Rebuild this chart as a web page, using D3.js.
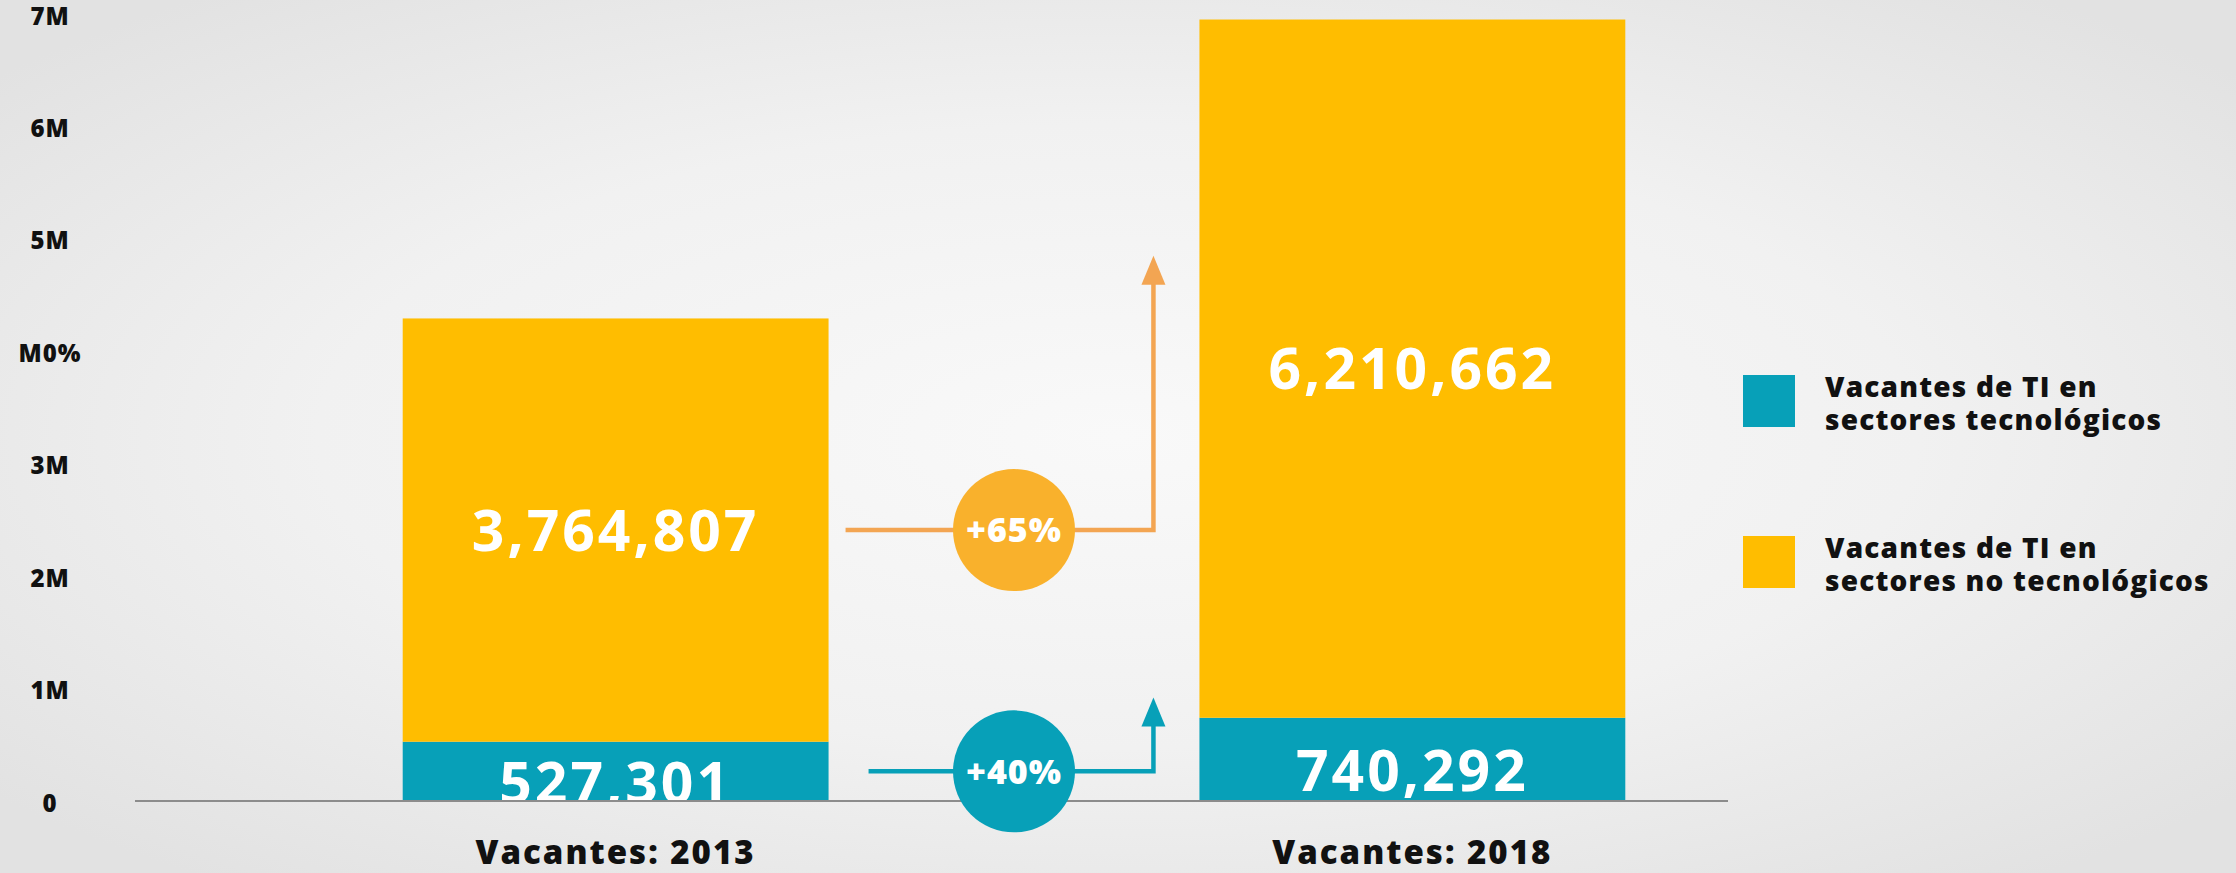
<!DOCTYPE html>
<html>
<head>
<meta charset="utf-8">
<script src="https://cdn.jsdelivr.net/npm/d3@7"></script>
<style>
    html, body { margin: 0; padding: 0; overflow: hidden; }
    text { font-family: "Open Sans", "DejaVu Sans", sans-serif; font-weight: 700; }
</style>
</head>
<body>
<div id="chart"></div>
<script>
// data
var categories = ["Vacantes: 2013", "Vacantes: 2018"];
var techValues = [527301, 740292];
var nonTechValues = [3764807, 6210662];
var seriesKeys = ["tech", "nonTech"];
var legendLines = [
    ["Vacantes de TI en", "sectores tecnológicos"],
    ["Vacantes de TI en", "sectores no tecnológicos"]
];
var yTickValues = [0, 1000000, 2000000, 3000000, 4000000, 5000000, 6000000, 7000000];
var yTickLabels = ["0", "1M", "2M", "3M", "M0%", "5M", "6M", "7M"];
var growthLabels = ["+40%", "+65%"];
var arrowTips = [920000, 4850000];

(function () {
    "use strict";

    var vWidth = 2236, vHeight = 873;
    var cTeal = "#07a0b8", cYellow = "#ffbd00";
    var cLineOrange = "#f3a552", cCircleOrange = "#f9b12c";
    var vColors = { tech: cTeal, nonTech: cYellow };

    var svg = d3.select("#chart").append("svg")
        .attr("width", vWidth)
        .attr("height", vHeight);

    // background
    var defs = svg.append("defs");
    var grad = defs.append("radialGradient")
        .attr("id", "bg")
        .attr("cx", "50%").attr("cy", "50%").attr("r", "65%");
    grad.append("stop").attr("offset", "0%").attr("stop-color", "#f9f9f9");
    grad.append("stop").attr("offset", "55%").attr("stop-color", "#f1f1f1");
    grad.append("stop").attr("offset", "100%").attr("stop-color", "#e2e2e2");
    svg.append("rect")
        .attr("width", vWidth).attr("height", vHeight)
        .attr("fill", "url(#bg)");

    var vData = categories.map(function (aCat, i) {
        return { cat: aCat, tech: techValues[i], nonTech: nonTechValues[i] };
    });
    var vStack = d3.stack().keys(seriesKeys)(vData);

    var x = d3.scaleBand()
        .domain(categories)
        .range([135, 1893])
        .paddingInner(0.4655)
        .paddingOuter(0.336);
    var y = d3.scaleLinear()
        .domain([0, 7000000])
        .range([801, 14]);

    // y axis labels
    var yAxis = svg.append("g")
        .attr("transform", "translate(50,0)")
        .call(d3.axisLeft(y)
            .tickValues(yTickValues)
            .tickSize(0)
            .tickFormat(function (d, i) { return yTickLabels[i]; }));
    yAxis.select(".domain").remove();
    yAxis.selectAll("text")
        .attr("x", 0)
        .attr("dy", "0.42em")
        .style("text-anchor", "middle")
        .style("font-family", "'Open Sans', sans-serif")
        .style("font-weight", 800)
        .style("font-size", "24px")
        .style("letter-spacing", "1px")
        .attr("fill", "#111");

    // bars
    svg.append("g")
        .selectAll("g")
        .data(vStack)
        .enter()
        .append("g")
            .attr("fill", function (s) { return vColors[s.key]; })
        .selectAll("rect")
        .data(function (s) { return s; })
        .enter()
        .append("rect")
            .attr("x", function (d) { return x(d.data.cat); })
            .attr("y", function (d) { return y(d[1]); })
            .attr("width", x.bandwidth())
            .attr("height", function (d) { return y(d[0]) - y(d[1]); });

    // value labels, clipped at the baseline
    defs.append("clipPath").attr("id", "plotClip")
        .append("rect")
        .attr("x", 0).attr("y", 0)
        .attr("width", vWidth).attr("height", y(0));
    var vFmt = d3.format(",");
    svg.append("g")
        .attr("clip-path", "url(#plotClip)")
        .selectAll("g")
        .data(vStack)
        .enter()
        .append("g")
        .selectAll("text")
        .data(function (s) { return s.map(function (d) { return { d: d, key: s.key }; }); })
        .enter()
        .append("text")
            .attr("x", function (o) { return x(o.d.data.cat) + x.bandwidth() / 2; })
            .attr("y", function (o) { return (y(o.d[0]) + y(o.d[1])) / 2; })
            .attr("dy", function (o) { return o.key === "tech" ? "0.55em" : "0.36em"; })
            .attr("text-anchor", "middle")
            .attr("fill", "#fff")
            .style("font-size", "57px")
            .style("letter-spacing", "3px")
            .text(function (o) { return vFmt(o.d.data[o.key]); });

    // baseline
    svg.append("line")
        .attr("x1", 135).attr("x2", 1728)
        .attr("y1", y(0)).attr("y2", y(0))
        .attr("stroke", "#8c8c8c")
        .attr("stroke-width", 2);

    // category labels
    svg.append("g")
        .selectAll("text")
        .data(categories)
        .enter()
        .append("text")
            .attr("x", function (d) { return x(d) + x.bandwidth() / 2; })
            .attr("y", 864)
            .attr("text-anchor", "middle")
            .attr("fill", "#111")
            .style("font-size", "33px")
            .style("font-weight", 800)
            .style("letter-spacing", "2px")
            .text(function (d) { return d; });

    // growth arrows between the bars
    var vLeftEnd = x(categories[0]) + x.bandwidth();
    var vRightStart = x(categories[1]);
    var vMidX = (vLeftEnd + vRightStart) / 2;
    var vArrows = vStack.map(function (s, i) {
        return {
            startY: (y(s[0][0]) + y(s[0][1])) / 2,
            tipY: y(arrowTips[i]),
            line: i === 0 ? cTeal : cLineOrange,
            circle: i === 0 ? cTeal : cCircleOrange,
            label: growthLabels[i],
            startX: vLeftEnd + (i === 0 ? 40 : 17)
        };
    });
    var vCornerX = vRightStart - 46;
    var gArrows = svg.append("g");
    vArrows.forEach(function (a) {
        gArrows.append("path")
            .attr("d", "M" + a.startX + "," + a.startY +
                "H" + vCornerX + "V" + (a.tipY + 26))
            .attr("fill", "none")
            .attr("stroke", a.line)
            .attr("stroke-width", 4.5);
        gArrows.append("path")
            .attr("d", "M" + vCornerX + "," + a.tipY +
                "L" + (vCornerX + 12) + "," + (a.tipY + 29) +
                "L" + (vCornerX - 12) + "," + (a.tipY + 29) + "Z")
            .attr("fill", a.line);
        gArrows.append("circle")
            .attr("cx", vMidX)
            .attr("cy", a.startY)
            .attr("r", 61)
            .attr("fill", a.circle);
        gArrows.append("text")
            .attr("x", vMidX)
            .attr("y", a.startY)
            .attr("dy", "0.36em")
            .attr("text-anchor", "middle")
            .attr("fill", "#fff")
            .style("font-size", "34px")
            .style("font-weight", 800)
            .style("letter-spacing", "1px")
            .text(a.label);
    });

    // legend
    var gLegend = svg.append("g");
    seriesKeys.forEach(function (aKey, i) {
        var vTop = 375 + i * 161;
        gLegend.append("rect")
            .attr("x", 1743).attr("y", vTop)
            .attr("width", 52).attr("height", 52)
            .attr("fill", vColors[aKey]);
        var t = gLegend.append("text")
            .attr("x", 1825)
            .attr("y", vTop + 22)
            .attr("fill", "#111")
            .style("font-size", "28px")
            .style("font-weight", 800)
            .style("letter-spacing", "1.2px");
        legendLines[i].forEach(function (aLine, j) {
            t.append("tspan")
                .attr("x", 1825)
                .attr("dy", j === 0 ? 0 : 33)
                .text(aLine);
        });
    });
})();
</script>
</body>
</html>
